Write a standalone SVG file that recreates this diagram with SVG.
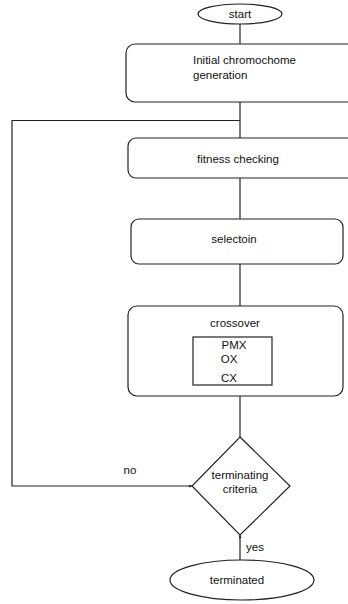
<svg xmlns="http://www.w3.org/2000/svg" width="348" height="604" viewBox="0 0 348 604">
<style>
.shape{fill:#fff;stroke:#222;stroke-width:1.2}
.ln{fill:none;stroke:#222;stroke-width:1.2}
text{font-family:"Liberation Sans",Arial,sans-serif;font-size:11.5px;fill:#111}
.c{text-anchor:middle}
</style>
<defs>
<marker id="ah" viewBox="0 0 6 6" refX="6" refY="3" markerWidth="2.5" markerHeight="2.5" orient="auto">
<path d="M0,0 L6,3 L0,6 Z" fill="#222"/>
</marker>
</defs>
<g id="connectors">
<line class="ln" x1="240" y1="24" x2="240" y2="44"/>
<line class="ln" x1="240" y1="102" x2="240" y2="138"/>
<polyline class="ln" points="240,120.5 12,120.5 12,486 192,486" marker-end="url(#ah)"/>
<line class="ln" x1="240" y1="178" x2="240" y2="219"/>
<line class="ln" x1="240" y1="264" x2="240" y2="306"/>
<line class="ln" x1="240" y1="396" x2="240" y2="437"/>
<line class="ln" x1="240" y1="560" x2="240" y2="535" marker-end="url(#ah)"/>
<text x="130" y="474" class="c">no</text>
<text x="246" y="551">yes</text>
</g>
<g id="start">
<ellipse class="shape" cx="240" cy="14" rx="42" ry="10"/>
<text x="240" y="18" class="c">start</text>
</g>
<g id="init">
<rect class="shape" x="126" y="44" width="240" height="58" rx="9"/>
<text x="193" y="64">Initial chromochome</text>
<text x="193" y="79">generation</text>
</g>
<g id="fitness">
<rect class="shape" x="128" y="138" width="240" height="40" rx="8"/>
<text x="238" y="163" class="c">fitness checking</text>
</g>
<g id="selection">
<rect class="shape" x="131" y="219" width="212" height="45" rx="8"/>
<text x="234" y="243" class="c">selectoin</text>
</g>
<g id="crossover">
<rect class="shape" x="128" y="306" width="215" height="90" rx="9"/>
<text x="235" y="327" class="c">crossover</text>
<rect class="shape" x="193" y="337" width="79" height="48"/>
<text x="234" y="349" class="c">PMX</text>
<text x="229" y="363" class="c">OX</text>
<text x="229" y="382" class="c">CX</text>
</g>
<g id="decision">
<polygon class="shape" points="240,437 290,486 240,535 192,486"/>
<text x="240" y="479" class="c">terminating</text>
<text x="240" y="493" class="c">criteria</text>
</g>
<g id="terminated">
<ellipse class="shape" cx="242" cy="580" rx="72" ry="20"/>
<text x="237" y="584" class="c">terminated</text>
</g>
</svg>
